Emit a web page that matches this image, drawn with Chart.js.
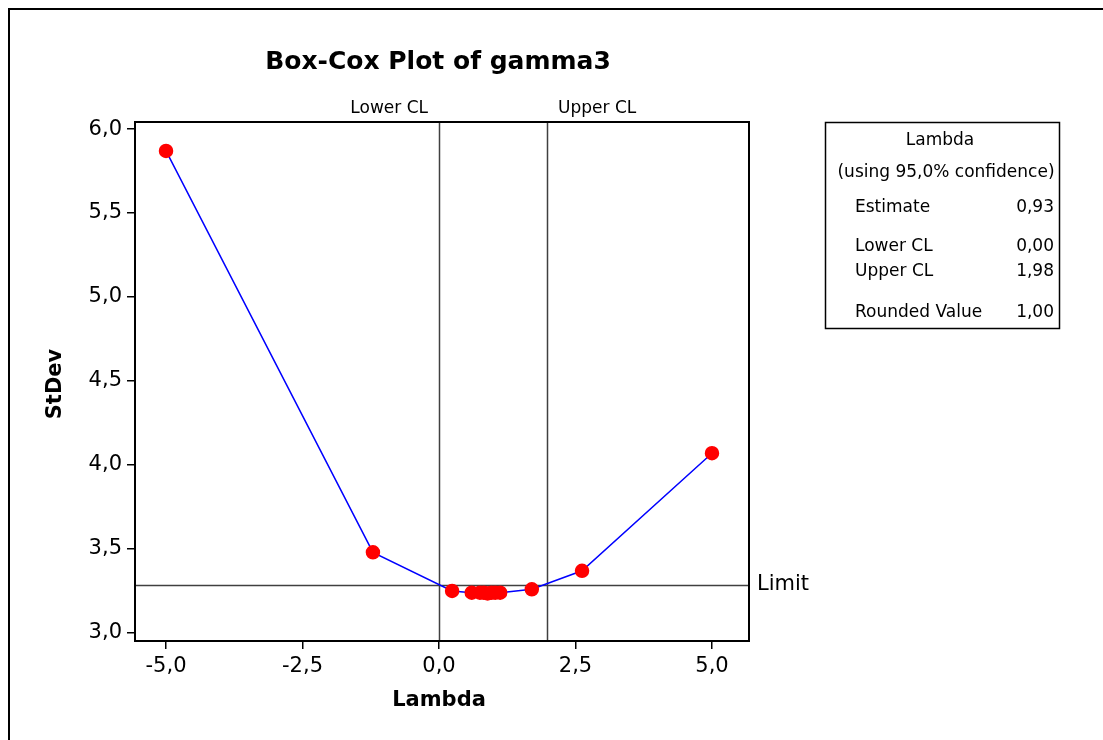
<!DOCTYPE html>
<html>
<head>
<meta charset="utf-8">
<script src="https://cdn.jsdelivr.net/npm/chart.js@4"></script>
<style>
  html, body { margin: 0; padding: 0; background: #ffffff; }
  #wrap { width: 1103px; height: 740px; position: relative; }
</style>
</head>
<body>
<div id="wrap"><canvas id="boxcox" width="1103" height="740"></canvas></div>
<script>
// Box-Cox transformation search: standard deviation at each lambda tried
const lambdaValues = [-5.0, -1.21, 0.24, 0.60, 0.75, 0.82, 0.89, 0.96, 1.03, 1.12, 1.70, 2.62, 5.0];
const stdevValues  = [5.87, 3.48, 3.25, 3.24, 3.24, 3.24, 3.235, 3.24, 3.24, 3.24, 3.26, 3.37, 4.07];

// Confidence interval and limit
const lowerCL = 0.00;
const upperCL = 1.98;
const stdevLimit = 3.286;

// Summary table rows
const summaryTitle = ['Lambda', '(using 95,0% confidence)'];
const summaryLabels = ['Estimate', 'Lower CL', 'Upper CL', 'Rounded Value'];
const summaryValues = ['0,93', '0,00', '1,98', '1,00'];

// Axis ticks
const xTicks = [-5.0, -2.5, 0.0, 2.5, 5.0];
const yTicks = [3.0, 3.5, 4.0, 4.5, 5.0, 5.5, 6.0];

const FONT = '"DejaVu Sans", Verdana, sans-serif';
const commaFmt = v => Number(v).toFixed(1).replace('.', ',');

const points = lambdaValues.map((l, i) => ({ x: l, y: stdevValues[i] }));

const decorations = {
  id: 'decorations',
  beforeDatasetsDraw(chart) {
    const { ctx, chartArea: a, scales: { x, y } } = chart;
    ctx.save();
    ctx.strokeStyle = '#404040';
    ctx.lineWidth = 1.5;
    // confidence limit verticals
    [lowerCL, upperCL].forEach(v => {
      const px = Math.round(x.getPixelForValue(v)) + 0.5;
      ctx.beginPath(); ctx.moveTo(px, a.top); ctx.lineTo(px, a.bottom); ctx.stroke();
    });
    // stdev limit horizontal
    const py = Math.round(y.getPixelForValue(stdevLimit)) + 0.5;
    ctx.beginPath(); ctx.moveTo(a.left, py); ctx.lineTo(a.right, py); ctx.stroke();
    ctx.restore();
  },
  afterDraw(chart) {
    const { ctx, chartArea: a, scales: { x, y } } = chart;
    ctx.save();
    // outer frame
    ctx.strokeStyle = '#000';
    ctx.lineWidth = 2;
    ctx.beginPath(); ctx.moveTo(9, 745); ctx.lineTo(9, 9); ctx.lineTo(1110, 9); ctx.stroke();

    // plot box
    ctx.lineWidth = 2;
    ctx.strokeRect(a.left, a.top, a.right - a.left, a.bottom - a.top);

    ctx.fillStyle = '#000';
    // title
    ctx.font = 'bold 25px ' + FONT;
    ctx.textAlign = 'center'; ctx.textBaseline = 'middle';
    ctx.fillText('Box-Cox Plot of gamma3', 438, 62);

    // axis titles
    ctx.font = 'bold 21px ' + FONT;
    ctx.fillText('Lambda', 439, 701);
    ctx.save();
    ctx.translate(56, 384);
    ctx.rotate(-Math.PI / 2);
    ctx.fillText('StDev', 0, 0);
    ctx.restore();

    // CL labels
    ctx.font = '17px ' + FONT;
    ctx.textBaseline = 'middle';
    ctx.textAlign = 'right';
    ctx.fillText('Lower CL', x.getPixelForValue(lowerCL) - 11, 109);
    ctx.textAlign = 'left';
    ctx.fillText('Upper CL', x.getPixelForValue(upperCL) + 11, 109);

    // limit label
    ctx.font = '21px ' + FONT;
    ctx.textAlign = 'left';
    ctx.fillText('Limit', a.right + 8, y.getPixelForValue(stdevLimit));

    // summary box
    ctx.lineWidth = 1.5;
    ctx.strokeRect(825.5, 122.5, 234, 206);
    ctx.font = '17px ' + FONT;
    ctx.textAlign = 'center';
    ctx.fillText(summaryTitle[0], 940, 141);
    ctx.fillText(summaryTitle[1], 946, 173);
    const rowY = [208, 247, 272, 313];
    summaryLabels.forEach((lab, i) => {
      ctx.textAlign = 'left';
      ctx.fillText(lab, 855, rowY[i]);
      ctx.textAlign = 'right';
      ctx.fillText(summaryValues[i], 1054, rowY[i]);
    });
    ctx.restore();
  }
};

new Chart(document.getElementById('boxcox'), {
  type: 'scatter',
  data: {
    datasets: [{
      data: points,
      showLine: true,
      borderColor: '#0000ff',
      borderWidth: 1.5,
      pointBackgroundColor: '#ff0000',
      pointBorderColor: '#ff0000',
      pointRadius: 6.5,
      pointHoverRadius: 6.5,
      tension: 0
    }]
  },
  options: {
    responsive: false,
    animation: false,
    events: [],
    layout: { padding: { left: 0, top: 122, right: 354, bottom: 0 } },
    plugins: { legend: { display: false }, tooltip: { enabled: false }, title: { display: false } },
    scales: {
      x: {
        type: 'linear',
        min: -5.568, max: 5.678,
        afterBuildTicks: s => { s.ticks = xTicks.map(v => ({ value: v })); },
        afterFit: s => { s.height = 99; },
        grid: { drawOnChartArea: false, drawTicks: true, tickLength: 8, color: '#000', lineWidth: 1.5 },
        border: { display: true, color: '#000', width: 2 },
        ticks: { color: '#000', font: { family: FONT, size: 21 }, padding: 5, callback: commaFmt, maxRotation: 0 },
        title: { display: false }
      },
      y: {
        type: 'linear',
        min: 2.952, max: 6.042,
        afterBuildTicks: s => { s.ticks = yTicks.map(v => ({ value: v })); },
        afterFit: s => { s.width = 135; },
        grid: { drawOnChartArea: false, drawTicks: true, tickLength: 8, color: '#000', lineWidth: 1.5 },
        border: { display: true, color: '#000', width: 2 },
        ticks: { color: '#000', font: { family: FONT, size: 21 }, padding: 5, callback: commaFmt },
        title: { display: false }
      }
    }
  },
  plugins: [decorations]
});
</script>
</body>
</html>
